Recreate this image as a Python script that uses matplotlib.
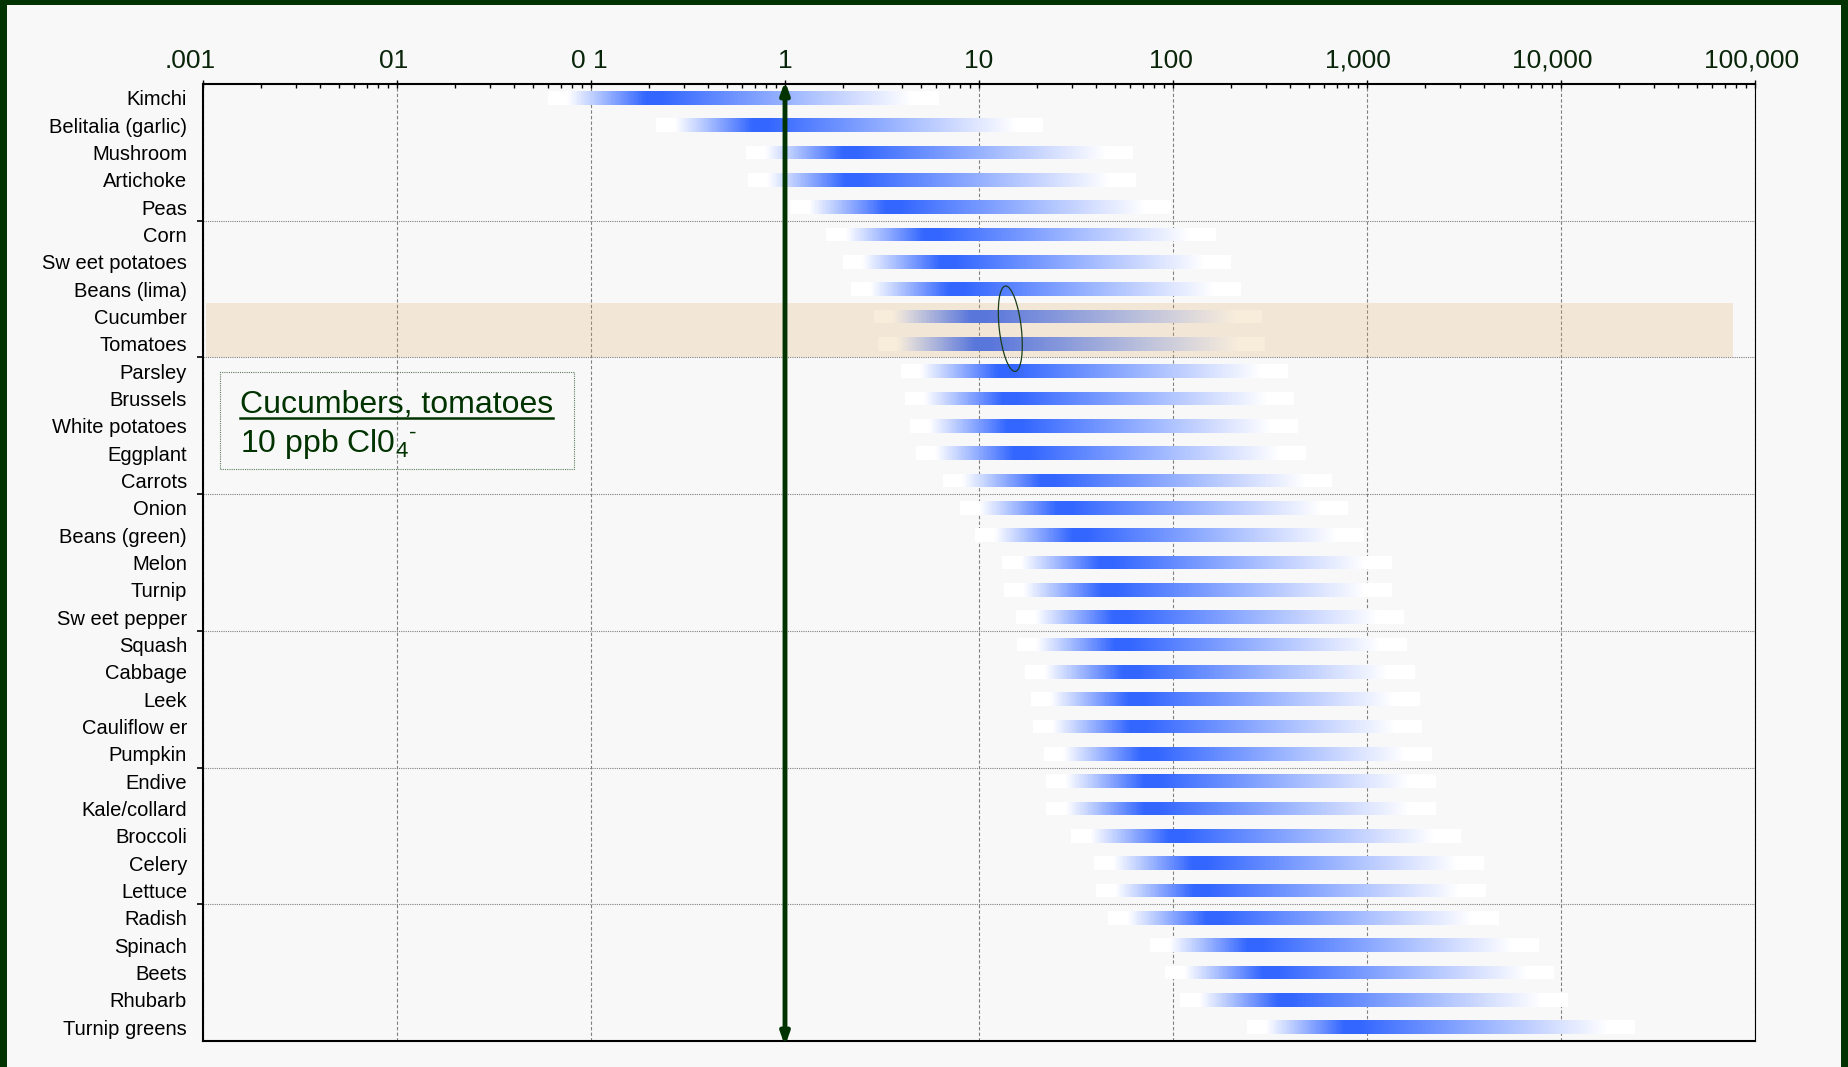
import numpy as np
import matplotlib
matplotlib.use("Agg")
import matplotlib.pyplot as plt
from matplotlib.patches import Rectangle, Ellipse
from matplotlib.lines import Line2D
from matplotlib.ticker import FixedLocator, LogLocator, NullFormatter
import matplotlib.transforms as mtransforms

plt.rcParams['font.family'] = ['Liberation Sans', 'DejaVu Sans']
plt.rcParams['mathtext.fontset'] = 'custom'
plt.rcParams['mathtext.rm'] = 'Liberation Sans'

# foods, top to bottom
foods = ["Kimchi", "Belitalia (garlic)", "Mushroom", "Artichoke", "Peas",
         "Corn", "Sw eet potatoes", "Beans (lima)", "Cucumber", "Tomatoes",
         "Parsley", "Brussels", "White potatoes", "Eggplant", "Carrots",
         "Onion", "Beans (green)", "Melon", "Turnip", "Sw eet pepper",
         "Squash", "Cabbage", "Leek", "Cauliflow er", "Pumpkin",
         "Endive", "Kale/collard", "Broccoli", "Celery", "Lettuce",
         "Radish", "Spinach", "Beets", "Rhubarb", "Turnip greens"]

# low / high end of each range
low = [0.060, 0.216, 0.63, 0.645, 1.06,
       1.63, 1.99, 2.19, 2.87, 3.02,
       3.96, 4.15, 4.41, 4.73, 6.52,
       7.98, 9.53, 13.1, 13.5, 15.5,
       15.7, 17.3, 18.5, 19.0, 21.6,
       22.2, 22.2, 29.8, 39.2, 40.1,
       46.3, 76.1, 91.0, 109.0, 240.0]
high = [6.2, 21.4, 62.0, 64.5, 98.0,
        167.0, 199.0, 224.0, 288.0, 298.0,
        390.0, 421.0, 439.0, 484.0, 661.0,
        794.0, 962.0, 1340.0, 1340.0, 1560.0,
        1600.0, 1770.0, 1880.0, 1920.0, 2160.0,
        2280.0, 2280.0, 3060.0, 4020.0, 4110.0,
        4800.0, 7730.0, 9250.0, 10900.0, 24000.0]

decades = [0.001, 0.01, 0.1, 1, 10, 100, 1000, 10000, 100000]
decade_labels = [".001", "01", "0 1", "1", "10", "100", "1,000", "10,000", "100,000"]
label_shift_px = [-13, -3, -2, 0, 0, -2, -9, -9, -3]
separators = [5, 10, 15, 20, 25, 30]
highlight_rows = (8, 10)

W, H = 1849, 1067
DARK = '#003300'
BG = '#f8f8f8'
BLUE = np.array([51, 102, 255]) / 255.0

fig = plt.figure(figsize=(W / 100, H / 100), dpi=100, facecolor=DARK)
fig.add_artist(Rectangle((7 / W, 0), (1841 - 7) / W, (H - 5) / H,
                         transform=fig.transFigure, facecolor=BG,
                         edgecolor='none', zorder=-5))

ax = fig.add_axes([203 / W, 1 - 1041 / H, (1755 - 203) / W, (1041 - 84) / H])
ax.set_facecolor(BG)
ax.set_xscale('log')
ax.set_xlim(0.001, 100000)
ax.set_ylim(len(foods), 0)
ax.set_axisbelow(True)

# gradient bars: white -> blue peak -> fade to white
n = 240
t = (np.arange(n) + 0.5) / n
mix = np.interp(t, [0, 0.05, 0.25, 0.29, 0.93, 1.0], [0, 0, 1, 1, 0, 0])
cols = 1 - mix[:, None] * (1 - BLUE)
bar_h = 0.5
for i, (lo, hi) in enumerate(zip(low, high)):
    xe = np.geomspace(lo, hi, n + 1)
    ye = [i + 0.5 - bar_h / 2, i + 0.5 + bar_h / 2]
    ax.pcolormesh(xe, ye, cols[None, :, :], shading='flat',
                  edgecolors='none', antialiased=False, zorder=2)

# highlighted rows
blend = mtransforms.blended_transform_factory(ax.transAxes, ax.transData)
ax.add_patch(Rectangle((0.002, highlight_rows[0]), 0.984,
                       highlight_rows[1] - highlight_rows[0], transform=blend,
                       facecolor=(225 / 255, 175 / 255, 94 / 255), alpha=0.22,
                       edgecolor='none', zorder=3))

# axes styling
for side, lw in [('left', 1.5), ('top', 1.5), ('bottom', 1.5), ('right', 0.8)]:
    ax.spines[side].set_linewidth(lw)
    ax.spines[side].set_color('black')

ax.xaxis.tick_top()
ax.xaxis.set_major_locator(FixedLocator(decades))
ax.set_xticklabels(decade_labels)
ax.xaxis.set_minor_locator(LogLocator(base=10, subs=np.arange(2, 10), numticks=20))
ax.xaxis.set_minor_formatter(NullFormatter())
ax.tick_params(axis='x', which='major', direction='inout', length=6, width=1,
               labelsize=19, labelcolor='#0a260a', pad=5)
ax.tick_params(axis='x', which='minor', direction='in', length=3, width=1)
for lab, dx in zip(ax.get_xticklabels(), label_shift_px):
    lab.set_transform(lab.get_transform()
                      + mtransforms.ScaledTranslation(dx / 100, 0, fig.dpi_scale_trans))

ax.set_yticks(separators)
ax.set_yticklabels([])
ax.set_yticks(np.arange(len(foods)) + 0.5, minor=True)
ax.set_yticklabels(foods, minor=True)
ax.tick_params(axis='y', which='major', direction='out', length=4, width=1.2)
ax.tick_params(axis='y', which='minor', length=0, labelsize=14.5, pad=11.5)

ax.grid(axis='x', which='major', color='#808080', lw=0.8, linestyle=(0, (3, 2)))
ax.grid(axis='y', which='major', color='#808080', lw=0.8, linestyle=(0, (1, 1)))

# reference line at 1 with arrowheads
ax.annotate('', xy=(1, -0.11), xytext=(1, len(foods) + 0.18),
            arrowprops=dict(arrowstyle='<|-|>,head_length=0.7,head_width=0.25',
                            color=DARK, lw=3.5, mutation_scale=10,
                            shrinkA=0, shrinkB=0),
            annotation_clip=False, zorder=5)

# ellipse around the 10 ppb point
ell_tr = fig.dpi_scale_trans + mtransforms.ScaledTranslation(14.5, 8.95, ax.transData)
ax.add_patch(Ellipse((0, 0), 0.22, 0.86, angle=6.6, transform=ell_tr,
                     fill=False, edgecolor='#1a3d1a', lw=0.9, zorder=6))
ax.set_xlim(0.001, 100000)
ax.set_ylim(len(foods), 0)

# note box
fig.add_artist(Rectangle((220 / W, 1 - 469 / H), 354 / W, 97 / H,
                         transform=fig.transFigure, fill=False,
                         edgecolor='#5b7f5b', lw=0.8, linestyle=(0, (1, 1)),
                         zorder=4))
t1 = fig.text(240 / W, 1 - 413 / H, "Cucumbers, tomatoes", fontsize=23,
              color=DARK, ha='left', va='baseline')
fig.text(240 / W, 1 - 452 / H, r"10 ppb Cl0$_4$$^{\text{-}}$", fontsize=23,
         color=DARK, ha='left', va='baseline')
fig.canvas.draw()
bb = t1.get_window_extent()
fig.add_artist(Line2D([bb.x0 / W, bb.x1 / W], [(H - 418) / H, (H - 418) / H],
                      transform=fig.transFigure, color=DARK, lw=1.8))

fig.savefig('out.png', dpi=100, facecolor=fig.get_facecolor())
